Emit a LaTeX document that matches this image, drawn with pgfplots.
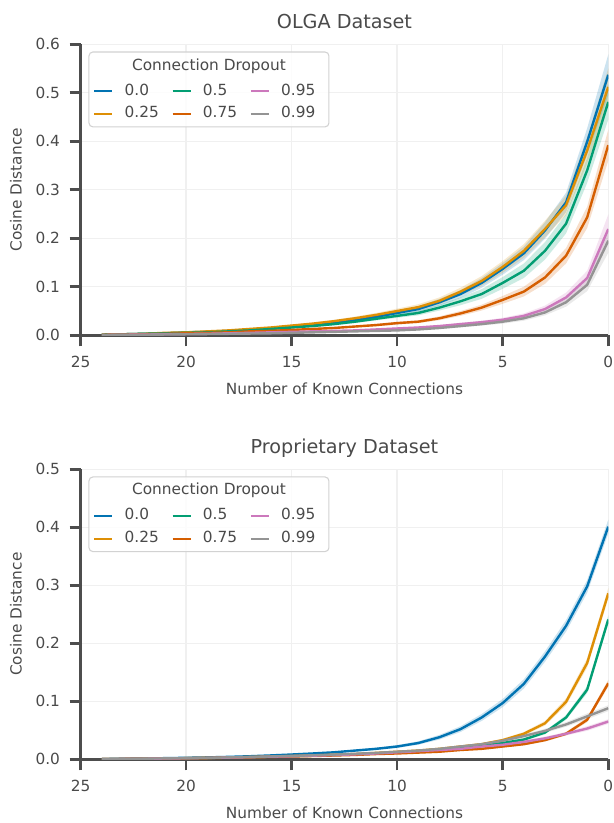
\documentclass[border=0pt]{standalone}
\usepackage{fontspec}
\setmainfont{DejaVu Sans}
\usepackage{pgfplots}
\pgfplotsset{compat=1.18}
\usepackage{pgfplotstable}
\usepgfplotslibrary{fillbetween}
\definecolor{c0}{HTML}{0173B2}
\definecolor{c1}{HTML}{DE8F05}
\definecolor{c2}{HTML}{029E73}
\definecolor{c3}{HTML}{D55E00}
\definecolor{c4}{HTML}{CC78BC}
\definecolor{c5}{HTML}{949494}
\definecolor{txt}{HTML}{4A4A4A}
\definecolor{spine}{HTML}{4D4D4D}
\definecolor{gridc}{HTML}{F0F0F0}
\definecolor{legc}{HTML}{D2D2D2}

\pgfplotstableread{
x a ea b eb c ec d ed f ef g eg
0 0.537 0.042 0.512 0.038 0.481 0.036 0.392 0.032 0.219 0.030 0.195 0.025
1 0.399 0.028 0.381 0.027 0.340 0.026 0.243 0.022 0.118 0.015 0.104 0.013
2 0.274 0.020 0.268 0.020 0.230 0.020 0.164 0.016 0.078 0.010 0.068 0.009
3 0.216 0.017 0.219 0.017 0.174 0.018 0.119 0.013 0.054 0.007 0.047 0.006
4 0.169 0.014 0.174 0.014 0.133 0.015 0.090 0.010 0.040 0.005 0.035 0.005
5 0.137 0.012 0.141 0.012 0.108 0.012 0.073 0.008 0.032 0.004 0.028 0.004
6 0.108 0.010 0.112 0.010 0.085 0.010 0.057 0.006 0.027 0.003 0.023 0.003
7 0.085 0.008 0.090 0.008 0.070 0.008 0.045 0.005 0.023 0.003 0.019 0.003
8 0.068 0.007 0.071 0.007 0.057 0.006 0.035 0.004 0.019 0.002 0.015 0.002
9 0.054 0.006 0.058 0.006 0.046 0.005 0.028 0.003 0.016 0.002 0.012 0.002
10 0.046 0.005 0.050 0.005 0.040 0.004 0.025 0.003 0.014 0.002 0.010 0.0015
11 0.038 0.004 0.042 0.004 0.034 0.0035 0.021 0.0025 0.012 0.0015 0.009 0.0013
12 0.031 0.0035 0.035 0.0035 0.028 0.003 0.018 0.002 0.010 0.0012 0.008 0.0012
13 0.025 0.003 0.029 0.003 0.023 0.0025 0.015 0.0018 0.009 0.001 0.007 0.001
14 0.021 0.0025 0.024 0.0025 0.019 0.002 0.013 0.0015 0.008 0.001 0.006 0.001
15 0.017 0.002 0.020 0.002 0.016 0.0017 0.011 0.0012 0.007 0.001 0.005 0.0008
16 0.014 0.0016 0.016 0.0016 0.013 0.0014 0.009 0.001 0.006 0.0008 0.004 0.0007
17 0.011 0.0013 0.013 0.0013 0.010 0.0011 0.008 0.001 0.005 0.0007 0.0035 0.0006
18 0.009 0.001 0.010 0.001 0.008 0.0009 0.006 0.0008 0.004 0.0006 0.003 0.0005
19 0.007 0.0008 0.008 0.0009 0.006 0.0007 0.005 0.0007 0.003 0.0005 0.0025 0.0004
20 0.006 0.0007 0.006 0.0007 0.005 0.0006 0.004 0.0006 0.0025 0.0004 0.002 0.0003
21 0.004 0.0005 0.005 0.0006 0.004 0.0005 0.003 0.0005 0.002 0.0003 0.0015 0.0003
22 0.003 0.0004 0.003 0.0004 0.003 0.0004 0.002 0.0004 0.0015 0.0003 0.001 0.0002
23 0.002 0.0003 0.002 0.0003 0.002 0.0003 0.0015 0.0003 0.001 0.0002 0.0008 0.0002
24 0.001 0.0002 0.001 0.0002 0.001 0.0002 0.001 0.0002 0.0005 0.0001 0.0005 0.0001
}\toptbl

\pgfplotstableread{
x a ea b eb c ec d ed f ef g eg
0 0.401 0.012 0.286 0.009 0.241 0.007 0.131 0.006 0.065 0.004 0.088 0.005
1 0.298 0.011 0.166 0.008 0.120 0.006 0.068 0.004 0.053 0.004 0.074 0.005
2 0.230 0.010 0.099 0.006 0.072 0.004 0.044 0.003 0.044 0.003 0.060 0.004
3 0.177 0.009 0.062 0.004 0.046 0.003 0.033 0.0025 0.036 0.003 0.049 0.0035
4 0.130 0.008 0.044 0.003 0.034 0.0025 0.026 0.002 0.030 0.0025 0.040 0.003
5 0.097 0.007 0.033 0.0025 0.028 0.002 0.022 0.0017 0.025 0.002 0.032 0.0025
6 0.072 0.006 0.026 0.002 0.023 0.0017 0.018 0.0015 0.022 0.0017 0.026 0.002
7 0.052 0.005 0.022 0.0017 0.020 0.0015 0.016 0.0013 0.018 0.0015 0.022 0.0017
8 0.038 0.004 0.018 0.0015 0.017 0.0013 0.013 0.0012 0.016 0.0013 0.018 0.0015
9 0.028 0.003 0.015 0.0012 0.014 0.0012 0.0115 0.001 0.014 0.0012 0.015 0.0012
10 0.022 0.0025 0.013 0.001 0.012 0.001 0.010 0.0009 0.012 0.001 0.013 0.001
11 0.018 0.002 0.011 0.0009 0.010 0.0008 0.009 0.0007 0.010 0.0008 0.011 0.0009
12 0.015 0.0015 0.009 0.0008 0.0085 0.0007 0.0075 0.0006 0.0085 0.0007 0.0095 0.0008
13 0.012 0.0012 0.0078 0.0007 0.0072 0.0006 0.0065 0.0005 0.0072 0.0006 0.008 0.0007
14 0.010 0.001 0.0066 0.0006 0.0062 0.0005 0.0056 0.0005 0.0062 0.0005 0.0068 0.0006
15 0.0082 0.0009 0.0056 0.0005 0.0052 0.0005 0.0048 0.0004 0.0052 0.0005 0.0058 0.0005
16 0.0066 0.0007 0.0046 0.0004 0.0044 0.0004 0.004 0.0004 0.0044 0.0004 0.0048 0.0004
17 0.0052 0.0006 0.0038 0.0004 0.0036 0.0003 0.0033 0.0003 0.0036 0.0003 0.004 0.0004
18 0.0041 0.0005 0.003 0.0003 0.0029 0.0003 0.0027 0.0003 0.0029 0.0003 0.0032 0.0003
19 0.0032 0.0004 0.0024 0.0003 0.0023 0.0002 0.0021 0.0002 0.0023 0.0002 0.0025 0.0003
20 0.0025 0.0003 0.0019 0.0002 0.0018 0.0002 0.0017 0.0002 0.0018 0.0002 0.002 0.0002
21 0.0019 0.0002 0.0014 0.0002 0.0013 0.0002 0.0012 0.0002 0.0013 0.0002 0.0015 0.0002
22 0.0013 0.0002 0.001 0.0001 0.0009 0.0001 0.0009 0.0001 0.0009 0.0001 0.001 0.0001
23 0.0008 0.0001 0.0006 0.0001 0.0006 0.0001 0.0005 0.0001 0.0006 0.0001 0.0006 0.0001
24 0.0004 0.0001 0.0003 0.0001 0.0003 0.0001 0.0003 0.0001 0.0003 0.0001 0.0003 0.0001
}\bottbl

% #1 table, #2 column, #3 error column, #4 colour, #5 name prefix
\newcommand\dseries[5]{%
  \addplot[draw=none, forget plot, name path=#5U#2] table[x=x, y expr=\thisrow{#2}+\thisrow{#3}] {#1};
  \addplot[draw=none, forget plot, name path=#5L#2] table[x=x, y expr=\thisrow{#2}-\thisrow{#3}] {#1};
  \addplot[fill=#4, fill opacity=0.2, draw=none, forget plot] fill between[of=#5U#2 and #5L#2];
  \addplot[#4, line width=1.8pt, line join=round, forget plot] table[x=x, y=#2] {#1};
}

\newcommand\legendstuff{%
  \draw[legc, rounded corners=3pt, line width=0.8pt, fill=white, fill opacity=0.8]
    (axis description cs:0.0157,0.716) rectangle (axis description cs:0.4706,0.9735);
  \node[font=\fontsize{11.5}{13}\selectfont, text=txt] at (axis description cs:0.2432,0.926) {Connection Dropout};
  \addlegendimage{c0, line width=1.6pt}\addlegendentry{0.0}
  \addlegendimage{c2, line width=1.6pt}\addlegendentry{0.5}
  \addlegendimage{c4, line width=1.6pt}\addlegendentry{0.95}
  \addlegendimage{c1, line width=1.6pt}\addlegendentry{0.25}
  \addlegendimage{c3, line width=1.6pt}\addlegendentry{0.75}
  \addlegendimage{c5, line width=1.6pt}\addlegendentry{0.99}
}

\pgfplotsset{myax/.style={
  scale only axis, width=395.7pt,
  xmin=0, xmax=25, x dir=reverse, ymin=0,
  axis x line*=bottom, axis y line*=left,
  axis line style={spine, line width=2pt, -},
  tick align=outside, major tick length=8.25pt,
  tick style={spine, line width=1.9pt},
  xtick={0,5,10,15,20,25},
  grid=major, major grid style={gridc, line width=1.1pt},
  tick label style={font=\fontsize{11.5}{13}\selectfont, text=txt},
  xticklabel style={yshift=-4pt},
  yticklabel style={xshift=-3.75pt, /pgf/number format/.cd, fixed, fixed zerofill, precision=1},
  label style={font=\fontsize{11.5}{13}\selectfont, text=txt},
  /pgf/number format/assume math mode=true,
  xlabel={Number of Known Connections}, ylabel={Cosine Distance},
  xlabel style={at={(axis description cs:0.5,-0.205)}, anchor=base},
  ylabel style={at={(axis description cs:-0.1226,0.5)}, anchor=center},
  title style={at={(axis description cs:0.5,1.0252)}, anchor=base, font=\fontsize{14.4}{17}\selectfont, text=txt},
  legend image code/.code={\draw[##1] (0pt,0pt) -- (13.5pt,0pt);},
  legend columns=3,
  legend cell align=left,
  legend style={draw=none, fill=none, at={(axis description cs:0.0157,0.80)}, anchor=west,
    font=\fontsize{11.5}{13}\selectfont, text=txt,
    row sep=5pt,
    nodes={inner sep=0pt, text height=9pt, text depth=3pt},
    /tikz/every odd column/.style={column sep=8.5pt},
    /tikz/every even column/.style={column sep=9.5pt}},
}}

\begin{document}
\begin{tikzpicture}
\begin{axis}[myax, at={(60.5pt,365.8pt)}, anchor=south west, height=218.25pt,
  ymax=0.6, ytick={0,0.1,0.2,0.3,0.4,0.5,0.6}, title={OLGA Dataset}]
  \dseries{\toptbl}{a}{ea}{c0}{T}
  \dseries{\toptbl}{b}{eb}{c1}{T}
  \dseries{\toptbl}{c}{ec}{c2}{T}
  \dseries{\toptbl}{d}{ed}{c3}{T}
  \dseries{\toptbl}{f}{ef}{c4}{T}
  \dseries{\toptbl}{g}{eg}{c5}{T}
  \legendstuff
\end{axis}
\begin{axis}[myax, at={(60.5pt,47.8pt)}, anchor=south west, height=217.5pt,
  ymax=0.5, ytick={0,0.1,0.2,0.3,0.4,0.5}, title={Proprietary Dataset}]
  \dseries{\bottbl}{a}{ea}{c0}{B}
  \dseries{\bottbl}{b}{eb}{c1}{B}
  \dseries{\bottbl}{c}{ec}{c2}{B}
  \dseries{\bottbl}{d}{ed}{c3}{B}
  \dseries{\bottbl}{f}{ef}{c4}{B}
  \dseries{\bottbl}{g}{eg}{c5}{B}
  \legendstuff
\end{axis}
\pgfresetboundingbox
\path[use as bounding box] (0,0) rectangle (459.75pt,617.25pt);
\end{tikzpicture}
\end{document}
